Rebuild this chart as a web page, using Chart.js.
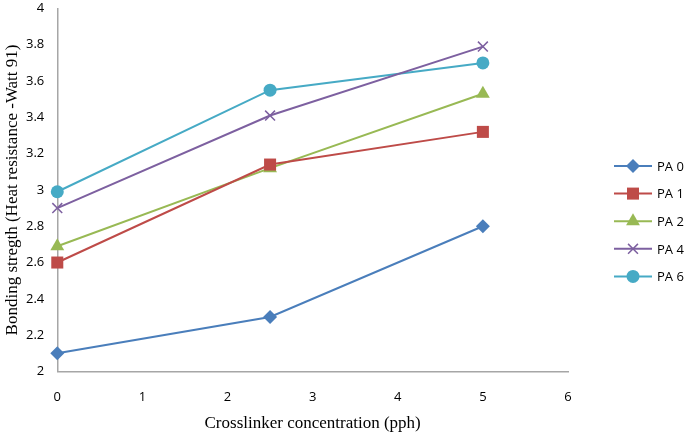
<!DOCTYPE html>
<html>
<head>
<meta charset="utf-8">
<script src="https://cdn.jsdelivr.net/npm/chart.js@4.4.0/dist/chart.umd.min.js"></script>
<style>
  html, body { margin: 0; padding: 0; background: #fff; }
  #wrap { width: 685px; height: 432px; }
</style>
</head>
<body>
<div id="wrap"><canvas id="pic" width="685" height="432"></canvas></div>
<script>
var xs = [0, 2.5, 5];
var names = ['PA 0', 'PA 1', 'PA 2', 'PA 4', 'PA 6'];
var pa0 = [2.10, 2.30, 2.80];
var pa1 = [2.60, 3.14, 3.32];
var pa2 = [2.69, 3.12, 3.53];
var pa4 = [2.90, 3.41, 3.79];
var pa6 = [2.99, 3.55, 3.70];
var colors = ['#4A7EBB', '#BE4B48', '#98B954', '#7D60A0', '#46AAC5'];
var marks = ['rectRot', 'rect', 'triangle', 'crossRot', 'circle'];
var sizes = [7, 8.5, 8, 7, 6.5];

var series = [pa0, pa1, pa2, pa4, pa6];

function pts(ys) {
    return ys.map(function (y, i) { return { x: xs[i], y: y }; });
}

var sets = series.map(function (ys, i) {
    return {
        label: names[i],
        data: pts(ys),
        borderColor: colors[i],
        backgroundColor: colors[i],
        borderWidth: 2,
        pointStyle: marks[i],
        pointRadius: sizes[i],
        pointBorderWidth: marks[i] == 'crossRot' ? 1.5 : 0,
        pointBorderColor: colors[i],
        tension: 0,
        fill: false,
        clip: false
    };
});

// legend on the right: short line with the marker in its middle
var sideLegend = {
    id: 'sideLegend',
    afterDraw: function (chart) {
        var c = chart.ctx;
        var top = 166, gap = 27.6;
        chart.data.datasets.forEach(function (ds, i) {
            var y = top + i * gap;
            c.save();
            c.strokeStyle = ds.borderColor;
            c.lineWidth = 2;
            c.beginPath();
            c.moveTo(614, y);
            c.lineTo(652, y);
            c.stroke();
            c.fillStyle = ds.backgroundColor;
            c.lineWidth = ds.pointBorderWidth || 1.5;
            Chart.helpers.drawPoint(c, { pointStyle: ds.pointStyle, radius: ds.pointRadius, rotation: 0, borderWidth: ds.pointBorderWidth }, 633, y);
            c.fillStyle = '#000';
            c.font = '13px "Open Sans", sans-serif';
            c.textBaseline = 'middle';
            c.fillText(ds.label, 657, y + 1);
            c.restore();
        });
    }
};

new Chart(document.getElementById('pic').getContext('2d'), {
    type: 'line',
    data: { datasets: sets },
    plugins: [sideLegend],
    options: {
        responsive: false,
        animation: false,
        layout: { padding: { top: 0, right: 117, left: 2, bottom: 0 } },
        plugins: { legend: { display: false }, tooltip: { enabled: false } },
        scales: {
            x: {
                type: 'linear',
                min: 0, max: 6,
                ticks: { stepSize: 1, color: '#000', font: { family: '"Open Sans", sans-serif', size: 13 }, padding: 10 },
                grid: { display: false },
                border: { display: true, color: '#a6a6a6', width: 1.5 },
                title: { display: true, text: 'Crosslinker concentration (pph)', color: '#000', font: { family: '"Liberation Serif", serif', size: 17, lineHeight: 1 }, padding: { top: 0, bottom: 0 } }
            },
            y: {
                min: 2, max: 4,
                ticks: {
                    stepSize: 0.2, color: '#000', font: { family: '"Open Sans", sans-serif', size: 13, lineHeight: 0.4 }, padding: 5,
                    callback: function (v) { return String(Number(v.toFixed(1))); }
                },
                grid: { display: false },
                border: { display: true, color: '#a6a6a6', width: 1.5 },
                title: { display: true, text: 'Bonding stregth (Heat resistance -Watt 91)', color: '#000', font: { family: '"Liberation Serif", serif', size: 17, lineHeight: 1 }, padding: { top: 2, bottom: 0 } }
            }
        }
    }
});
</script>
</body>
</html>
